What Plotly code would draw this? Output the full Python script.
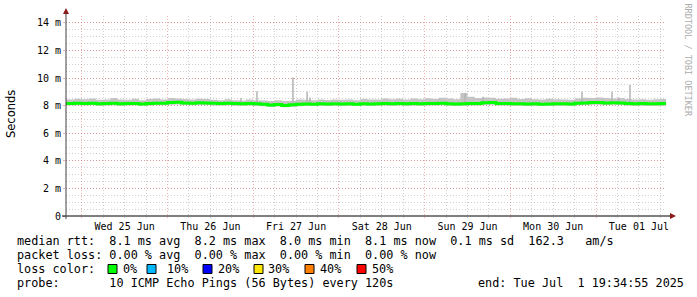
import pandas as pd
import plotly.graph_objects as go

# ---------------- data (milliseconds) ----------------
times = pd.date_range("2025-06-24 18:00", periods=86, freq="2h")

median_ms = [8.16, 8.15, 8.17,
             8.16, 8.18, 8.14, 8.15, 8.17, 8.13, 8.15, 8.16, 8.12, 8.15, 8.18, 8.17,
             8.22, 8.24, 8.20, 8.18, 8.21, 8.20, 8.17, 8.16, 8.18, 8.15, 8.14, 8.16,
             8.13, 8.10, 8.05, 8.08, 8.02, 8.06, 8.10, 8.12, 8.11, 8.13, 8.12, 8.14,
             8.12, 8.13, 8.11, 8.14, 8.12, 8.13, 8.15, 8.14, 8.16, 8.13, 8.15, 8.14,
             8.16, 8.15, 8.17, 8.13, 8.12, 8.14, 8.15, 8.16, 8.21, 8.22, 8.16, 8.15,
             8.13, 8.14, 8.12, 8.13, 8.11, 8.12, 8.14, 8.13, 8.12, 8.18, 8.20, 8.22,
             8.22, 8.20, 8.21, 8.19, 8.16, 8.14, 8.15, 8.13, 8.14, 8.15, 8.14]

smoke_lo = [8.03, 8.02, 8.03,
            8.02, 8.04, 8.00, 8.02, 8.03, 8.00, 8.01, 8.03, 7.99, 8.01, 8.04, 8.03,
            8.06, 8.08, 8.05, 8.03, 8.05, 8.04, 8.02, 8.01, 8.03, 8.00, 7.99, 8.01,
            7.98, 7.95, 7.90, 7.93, 7.88, 7.92, 7.96, 7.98, 7.97, 7.99, 7.98, 8.00,
            7.98, 7.99, 7.97, 8.00, 7.98, 7.99, 8.01, 8.00, 8.02, 7.99, 8.01, 8.00,
            8.02, 8.01, 8.03, 7.99, 7.98, 8.00, 8.01, 8.02, 8.06, 8.07, 8.02, 8.01,
            7.99, 8.00, 7.98, 7.99, 7.97, 7.98, 8.00, 7.99, 7.98, 8.03, 8.05, 8.07,
            8.07, 8.05, 8.06, 8.04, 8.01, 7.99, 8.00, 7.98, 7.99, 8.00, 7.99]

smoke_hi = [8.48, 8.44, 8.50,
            8.46, 8.52, 8.42, 8.45, 8.55, 8.44, 8.42, 8.50, 8.40, 8.48, 8.52, 8.45,
            8.56, 8.52, 8.48, 8.45, 8.50, 8.48, 8.42, 8.40, 8.46, 8.40, 8.38, 8.44,
            8.40, 8.38, 8.34, 8.40, 8.34, 8.36, 8.44, 8.42, 8.40, 8.44, 8.41, 8.45,
            8.42, 8.45, 8.40, 8.48, 8.44, 8.45, 8.52, 8.46, 8.50, 8.44, 8.52, 8.46,
            8.54, 8.48, 8.58, 8.52, 8.46, 8.92, 8.65, 8.55, 8.60, 8.58, 8.50, 8.52,
            8.58, 8.48, 8.54, 8.46, 8.44, 8.50, 8.46, 8.44, 8.42, 8.52, 8.58, 8.55,
            8.60, 8.56, 8.52, 8.55, 8.48, 8.44, 8.46, 8.43, 8.46, 8.48, 8.45]

spike_times = ["2025-06-26 20:35", "2025-06-27 01:03", "2025-06-27 11:08",
               "2025-06-27 15:05", "2025-06-27 15:55", "2025-06-29 11:18",
               "2025-06-29 16:20", "2025-06-30 20:03", "2025-07-01 04:27",
               "2025-07-01 06:25", "2025-07-01 09:30"]
spike_tops = [8.55, 9.05, 10.05, 9.0, 8.6, 8.9, 8.65, 9.0, 9.0, 8.6, 9.5]
spike_base = 8.2

y_ticks = [0, 2, 4, 6, 8, 10, 12, 14]
y_ticktext = ["0", "2 m", "4 m", "6 m", "8 m", "10 m", "12 m", "14 m"]

loss_labels = ["0%", "10%", "20%", "30%", "40%", "50%"]
loss_colors = ["#00ff00", "#00b8ff", "#0000ff", "#ffe600", "#ff8000", "#ff0000"]

line1 = "median rtt:  8.1 ms avg  8.2 ms max  8.0 ms min  8.1 ms now  0.1 ms sd  162.3   am/s"
line2 = "packet loss: 0.00 % avg  0.00 % max  0.00 % min  0.00 % now"
line3 = "loss color:"
line4 = "probe:       10 ICMP Echo Pings (56 Bytes) every 120s"
end_text = "end: Tue Jul  1 19:34:55 2025"
x_start = "2025-06-24 19:34:55"
x_end = "2025-07-01 19:34:55"

# ---------------- geometry helpers ----------------
W_IMG, H_IMG = 697, 297
L, T, PW, PH = 66, 16, 600, 200
B = T + PH


def px(x):
    return (x - L) / PW


def py(y):
    return (B - y) / PH


MONO = "DejaVu Sans Mono"
GRID_MAJ = "rgba(225,110,110,0.55)"
GRID_MIN = "rgba(175,175,175,0.6)"
DASH = "1px,2px"

fig = go.Figure()

# smoke band
fig.add_trace(go.Scatter(x=times, y=smoke_lo, mode="lines", line=dict(width=0, shape="hv"),
                         hoverinfo="skip", showlegend=False))
fig.add_trace(go.Scatter(x=times, y=smoke_hi, mode="lines", line=dict(width=0, shape="hv"),
                         fill="tonexty", fillcolor="#c4c4c4", hoverinfo="skip", showlegend=False))

# spikes
sx, sy = [], []
for t, top in zip(spike_times, spike_tops):
    sx += [t, t, None]
    sy += [spike_base, top, None]
fig.add_trace(go.Scatter(x=sx, y=sy, mode="lines", line=dict(color="#b4b4b4", width=1.5),
                         hoverinfo="skip", showlegend=False))

# median line
fig.add_trace(go.Scatter(x=times, y=median_ms, mode="lines",
                         line=dict(color="#00ff00", width=3, shape="hv"),
                         showlegend=False))

shapes = []
# axis lines
shapes.append(dict(type="line", xref="paper", yref="paper", x0=px(62), x1=px(671),
                   y0=0, y1=0, line=dict(color="#000000", width=1)))
shapes.append(dict(type="line", xref="paper", yref="paper", x0=0, x1=0,
                   y0=py(219), y1=py(12), line=dict(color="#404040", width=1)))
# arrows
shapes.append(dict(type="path", xref="paper", yref="paper",
                   path=f"M {px(63)},{py(14)} L {px(66)},{py(8)} L {px(69)},{py(14)} Z",
                   fillcolor="#8b1a1a", line=dict(width=0)))
shapes.append(dict(type="path", xref="paper", yref="paper",
                   path=f"M {px(670)},{py(213)} L {px(676)},{py(216)} L {px(670)},{py(219)} Z",
                   fillcolor="#8b1a1a", line=dict(width=0)))

annotations = []
text_font = dict(family=MONO, size=11.8, color="#000000")
for txt, yy in [(line1, 241), (line2, 255), (line3, 269), (line4, 283)]:
    annotations.append(dict(text=txt, xref="paper", yref="paper", x=px(15.5), y=py(yy),
                            xanchor="left", yanchor="middle", showarrow=False,
                            font=text_font, borderpad=0))
annotations.append(dict(text=end_text, xref="paper", yref="paper", x=px(477), y=py(283),
                        xanchor="left", yanchor="middle", showarrow=False,
                        font=text_font, borderpad=0))

box_left = [108, 147, 203, 254, 305, 357]
label_left = [122, 166, 217, 267, 319, 371]
for bl, ll, lab, col in zip(box_left, label_left, loss_labels, loss_colors):
    shapes.append(dict(type="rect", xref="paper", yref="paper", x0=px(bl), x1=px(bl + 9),
                       y0=py(273.5), y1=py(264.5), fillcolor=col,
                       line=dict(color="#000000", width=1)))
    annotations.append(dict(text=lab, xref="paper", yref="paper", x=px(ll), y=py(269),
                            xanchor="left", yanchor="middle", showarrow=False,
                            font=text_font, borderpad=0))

annotations.append(dict(text="Seconds", xref="paper", yref="paper", x=px(11), y=py(114),
                        xanchor="center", yanchor="middle", textangle=-90, showarrow=False,
                        font=dict(family="DejaVu Sans", size=11.5, color="#000000")))
annotations.append(dict(text="RRDTOOL / TOBI OETIKER", xref="paper", yref="paper",
                        x=px(687.5), y=py(60), xanchor="center", yanchor="middle",
                        textangle=90, showarrow=False,
                        font=dict(family=MONO, size=8.5, color="#acacac")))

fig.update_layout(
    width=W_IMG, height=H_IMG,
    margin=dict(l=L, r=W_IMG - L - PW, t=T, b=H_IMG - B),
    paper_bgcolor="#ffffff", plot_bgcolor="#ffffff",
    showlegend=False,
    shapes=shapes, annotations=annotations,
    xaxis=dict(
        type="date", range=[x_start, x_end],
        tick0="2025-06-24", dtick=86400000,
        ticklabelmode="period", tickformat="%a %d %b",
        showgrid=True, gridcolor=GRID_MAJ, griddash=DASH, gridwidth=1,
        ticks="outside", ticklen=1, tickcolor=GRID_MAJ,
        minor=dict(dtick=6 * 3600 * 1000, tick0="2025-06-24", showgrid=True,
                   gridcolor=GRID_MIN, griddash=DASH, ticks="outside", ticklen=1,
                   tickcolor=GRID_MIN),
        tickfont=dict(family=MONO, size=10, color="#000000"),
        zeroline=False, showline=False, fixedrange=True,
    ),
    yaxis=dict(
        range=[0, 14.5], tickvals=y_ticks, ticktext=y_ticktext,
        showgrid=True, gridcolor=GRID_MAJ, griddash=DASH, gridwidth=1,
        ticks="outside", ticklen=2, tickcolor=GRID_MAJ,
        minor=dict(dtick=0.5, showgrid=True, gridcolor=GRID_MIN, griddash=DASH),
        tickfont=dict(family=MONO, size=10, color="#000000"),
        zeroline=False, showline=False, fixedrange=True,
    ),
)

fig.write_html("out.html")
